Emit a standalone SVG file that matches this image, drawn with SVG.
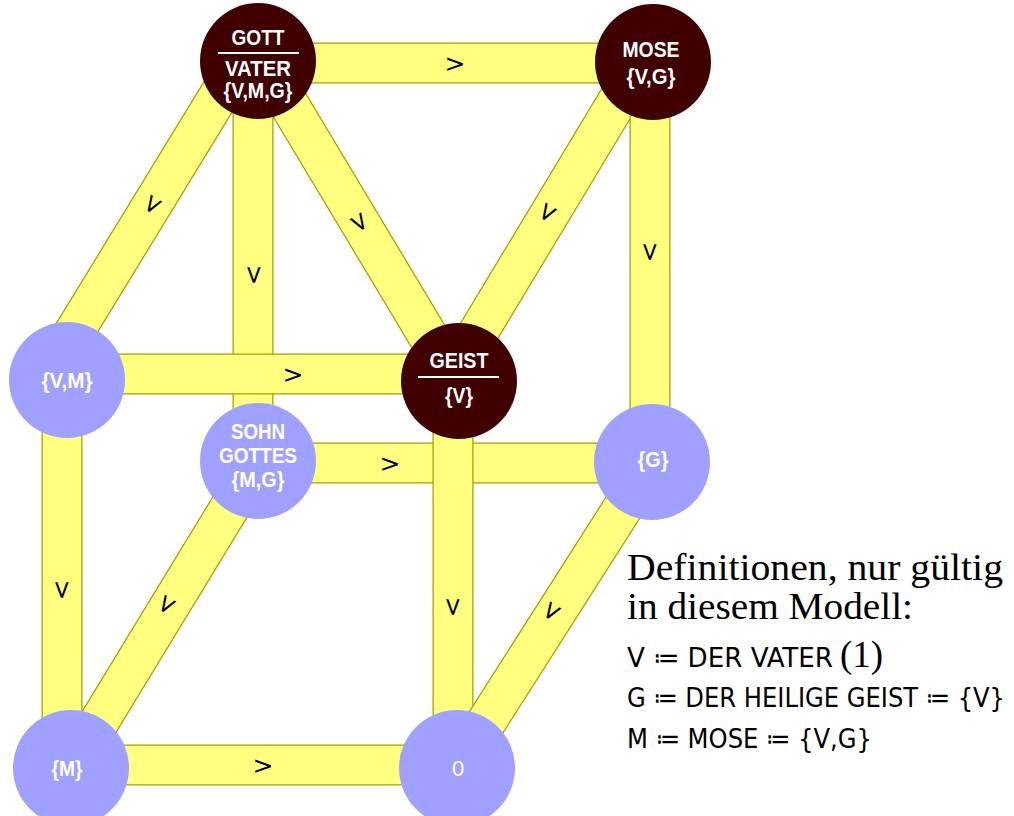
<svg xmlns="http://www.w3.org/2000/svg" width="1014" height="816" viewBox="0 0 1014 816">
<style>
.bo{stroke:#a0a000;stroke-width:41;fill:none}
.bf{stroke:#ffff80;stroke-width:38.5;fill:none}
.el{font-family:"DejaVu Sans",sans-serif;font-size:25px;fill:#000;text-anchor:middle;dominant-baseline:central}
.dark{fill:#400000}
.light{fill:#a0a0ff}
.nl{font-family:"Liberation Sans",Arial,sans-serif;font-weight:bold;font-size:22px;fill:#fff;text-anchor:middle}
.thin{font-weight:normal}
.def{font-family:"Liberation Serif",serif;font-size:37px;fill:#000}
.mono{font-family:"DejaVu Sans Condensed",sans-serif;font-size:27px;fill:#000}
</style>
<rect width="1014" height="816" fill="#fff"/>
<g id="connectors">
<g id="e-gott-mose"><line class="bo" x1="258" y1="63" x2="653" y2="63"/><line class="bf" x1="258" y1="63" x2="653" y2="63"/><text class="el" transform="translate(455,63)">&gt;</text></g>
<g id="e-gott-vm"><line class="bo" x1="240" y1="61" x2="45" y2="380"/><line class="bf" x1="240" y1="61" x2="45" y2="380"/><text class="el" transform="translate(153,205) rotate(121.4)">&gt;</text></g>
<g id="e-gott-sohn"><line class="bo" x1="253" y1="61" x2="253" y2="461"/><line class="bf" x1="253" y1="61" x2="253" y2="461"/><text class="el" transform="translate(254,275) rotate(90)">&gt;</text></g>
<g id="e-gott-geist"><line class="bo" x1="263" y1="61" x2="455" y2="381"/><line class="bf" x1="263" y1="61" x2="455" y2="381"/><text class="el" transform="translate(360,222) rotate(59)">&gt;</text></g>
<g id="e-mose-geist"><line class="bo" x1="641" y1="62" x2="449" y2="381"/><line class="bf" x1="641" y1="62" x2="449" y2="381"/><text class="el" transform="translate(548,213) rotate(121)">&gt;</text></g>
<g id="e-mose-g"><line class="bo" x1="650" y1="62" x2="650" y2="462"/><line class="bf" x1="650" y1="62" x2="650" y2="462"/><text class="el" transform="translate(650,252) rotate(90)">&gt;</text></g>
<g id="e-vm-geist"><line class="bo" x1="67" y1="374" x2="459" y2="374"/><line class="bf" x1="67" y1="374" x2="459" y2="374"/><text class="el" transform="translate(293,374)">&gt;</text></g>
<g id="e-vm-m"><line class="bo" x1="62" y1="380" x2="62" y2="768"/><line class="bf" x1="62" y1="380" x2="62" y2="768"/><text class="el" transform="translate(62,590) rotate(90)">&gt;</text></g>
<g id="e-sohn-g"><line class="bo" x1="258" y1="463" x2="652" y2="463"/><line class="bf" x1="258" y1="463" x2="652" y2="463"/><text class="el" transform="translate(390,463)">&gt;</text></g>
<g id="e-sohn-m"><line class="bo" x1="258" y1="461" x2="71" y2="768"/><line class="bf" x1="258" y1="461" x2="71" y2="768"/><text class="el" transform="translate(167,605) rotate(121.3)">&gt;</text></g>
<g id="e-geist-0"><line class="bo" x1="453" y1="381" x2="453" y2="768"/><line class="bf" x1="453" y1="381" x2="453" y2="768"/><text class="el" transform="translate(453,607) rotate(90)">&gt;</text></g>
<g id="e-g-0"><line class="bo" x1="652" y1="462" x2="457" y2="768"/><line class="bf" x1="652" y1="462" x2="457" y2="768"/><text class="el" transform="translate(552,612) rotate(122.5)">&gt;</text></g>
<g id="e-m-0"><line class="bo" x1="71" y1="765" x2="457" y2="765"/><line class="bf" x1="71" y1="765" x2="457" y2="765"/><text class="el" transform="translate(263,765)">&gt;</text></g>
</g>
<g id="n-gott"><circle class="dark" cx="258" cy="61" r="58"/><text class="nl" x="258" y="45" textLength="53" lengthAdjust="spacingAndGlyphs">GOTT</text><line x1="218" y1="53" x2="299" y2="53" stroke="#fff" stroke-width="2"/><text class="nl" x="258" y="76" textLength="66" lengthAdjust="spacingAndGlyphs">VATER</text><text class="nl" x="258" y="98" textLength="69" lengthAdjust="spacingAndGlyphs">{V,M,G}</text></g>
<g id="n-mose"><circle class="dark" cx="653" cy="62" r="58"/><text class="nl" x="651" y="57" textLength="57" lengthAdjust="spacingAndGlyphs">MOSE</text><text class="nl" x="651" y="84" textLength="49" lengthAdjust="spacingAndGlyphs">{V,G}</text></g>
<g id="n-geist"><circle class="dark" cx="459" cy="381" r="58"/><text class="nl" x="459" y="368" textLength="59" lengthAdjust="spacingAndGlyphs">GEIST</text><line x1="418" y1="377" x2="499" y2="377" stroke="#fff" stroke-width="2"/><text class="nl" x="459" y="403" textLength="28" lengthAdjust="spacingAndGlyphs">{V}</text></g>
<g id="n-vm"><circle class="light" cx="67" cy="380" r="58"/><text class="nl" x="67" y="388" textLength="51" lengthAdjust="spacingAndGlyphs">{V,M}</text></g>
<g id="n-sohn"><circle class="light" cx="258" cy="461" r="58"/><text class="nl" x="258" y="439" textLength="54" lengthAdjust="spacingAndGlyphs">SOHN</text><text class="nl" x="258" y="463" textLength="78" lengthAdjust="spacingAndGlyphs">GOTTES</text><text class="nl" x="258" y="487" textLength="53" lengthAdjust="spacingAndGlyphs">{M,G}</text></g>
<g id="n-g"><circle class="light" cx="652" cy="462" r="58"/><text class="nl" x="653" y="467" textLength="31" lengthAdjust="spacingAndGlyphs">{G}</text></g>
<g id="n-m"><circle class="light" cx="71" cy="768" r="58"/><text class="nl" x="67" y="776" textLength="31" lengthAdjust="spacingAndGlyphs">{M}</text></g>
<g id="n-0"><circle class="light" cx="457" cy="768" r="58"/><text class="nl thin" x="458" y="776" font-size="26">0</text></g>
<g id="definitions">
<text class="def" x="627" y="580" textLength="376" lengthAdjust="spacingAndGlyphs">Definitionen, nur gültig</text>
<text class="def" x="627" y="619" textLength="286" lengthAdjust="spacingAndGlyphs">in diesem Modell:</text>
<text class="mono" x="627" y="667" textLength="206" lengthAdjust="spacingAndGlyphs">V ≔ DER VATER</text>
<text class="def" x="840" y="667" font-size="29">(1)</text>
<text class="mono" x="627" y="707" textLength="378" lengthAdjust="spacingAndGlyphs">G ≔ DER HEILIGE GEIST ≔ {V}</text>
<text class="mono" x="627" y="748" textLength="245" lengthAdjust="spacingAndGlyphs">M ≔ MOSE ≔ {V,G}</text>
</g>
</svg>
